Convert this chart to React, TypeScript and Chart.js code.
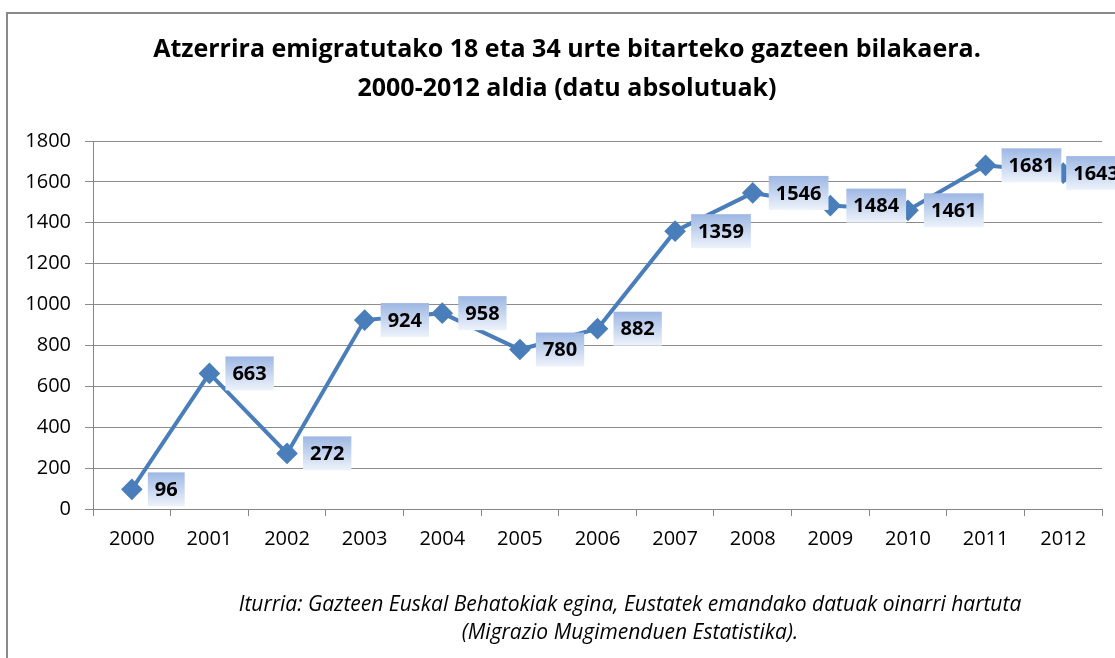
import React, { useEffect, useRef } from "react";
import { Chart, registerables } from "chart.js";

Chart.register(...registerables);

const years = ["2000", "2001", "2002", "2003", "2004", "2005", "2006", "2007", "2008", "2009", "2010", "2011", "2012"];
const youthEmigrants = [96, 663, 272, 924, 958, 780, 882, 1359, 1546, 1484, 1461, 1681, 1643];
const titleLines = [
  "Atzerrira emigratutako 18 eta 34 urte bitarteko gazteen bilakaera.",
  "2000-2012 aldia (datu absolutuak)",
];
const footerLines = [
  "Iturria: Gazteen Euskal Behatokiak egina, Eustatek emandako datuak oinarri hartuta",
  "(Migrazio Mugimenduen Estatistika).",
];

const LINE_BLUE = "#4a7ebb";
const CANVAS_W = 1160;
const CANVAS_H = 700;

const framePlugin = {
  id: "frame",
  beforeDraw(chart: any) {
    const ctx = chart.ctx;
    ctx.save();
    ctx.fillStyle = "#ffffff";
    ctx.fillRect(0, 0, chart.width, chart.height);
    ctx.strokeStyle = "#8a8a8a";
    ctx.lineWidth = 2;
    ctx.strokeRect(7, 13, chart.width - 20, chart.height - 20);
    ctx.restore();
  },
  afterDraw(chart: any) {
    const ctx = chart.ctx;
    ctx.save();
    ctx.fillStyle = "#000000";
    ctx.textAlign = "center";
    ctx.textBaseline = "middle";
    ctx.font = "bold 25px 'Open Sans'";
    ctx.fillText(titleLines[0], 567, 50);
    ctx.fillText(titleLines[1], 567, 89);
    ctx.font = "italic 21px 'Open Sans'";
    ctx.fillText(footerLines[0], 630, 605);
    ctx.fillText(footerLines[1], 630, 633);
    ctx.restore();
  },
};

const labelPlugin = {
  id: "boxLabels",
  afterDatasetsDraw(chart: any) {
    const ctx = chart.ctx;
    const meta = chart.getDatasetMeta(0);
    const data = chart.data.datasets[0].data as number[];
    ctx.save();
    ctx.font = "bold 20px 'Open Sans'";
    ctx.textBaseline = "middle";
    ctx.textAlign = "left";
    meta.data.forEach((pt: any, i: number) => {
      const txt = String(data[i]);
      const tw = ctx.measureText(txt).width;
      const padX = 7;
      const h = 34;
      const offset = i === data.length - 1 ? 3 : 16;
      const x0 = pt.x + offset;
      const y0 = pt.y - h / 2;
      const g = ctx.createLinearGradient(0, y0, 0, y0 + h);
      g.addColorStop(0, "#9db7e3");
      g.addColorStop(1, "#eef3fb");
      ctx.fillStyle = g;
      ctx.fillRect(x0, y0, tw + padX * 2, h);
      ctx.fillStyle = "#000000";
      ctx.fillText(txt, x0 + padX, pt.y + 1);
    });
    ctx.restore();
  },
};

export default function App() {
  const ref = useRef<HTMLCanvasElement>(null);
  useEffect(() => {
    if (!ref.current) return;
    const chart = new Chart(ref.current, {
      type: "line",
      data: {
        labels: years,
        datasets: [
          {
            data: youthEmigrants,
            borderColor: LINE_BLUE,
            backgroundColor: LINE_BLUE,
            borderWidth: 4,
            pointStyle: "rectRot",
            pointRadius: 8,
            pointHoverRadius: 8,
            pointBackgroundColor: LINE_BLUE,
            pointBorderColor: LINE_BLUE,
            tension: 0,
          },
        ],
      },
      options: {
        responsive: false,
        animation: false,
        devicePixelRatio: 1,
        layout: { padding: { left: 0, top: 141, right: CANVAS_W - 1102, bottom: CANVAS_H - 509 - 60 } },
        plugins: {
          legend: { display: false },
          title: { display: false },
          tooltip: { enabled: false },
        },
        scales: {
          x: {
            offset: true,
            grid: {
              offset: true,
              drawOnChartArea: false,
              drawTicks: true,
              tickLength: 7,
              color: "#868686",
            },
            border: { color: "#868686", width: 1 },
            ticks: { color: "#000000", font: { family: "'Open Sans'", size: 20 }, padding: 11 },
            afterFit(scale: any) {
              scale.height = 60;
            },
          },
          y: {
            min: 0,
            max: 1800,
            ticks: {
              stepSize: 200,
              color: "#000000",
              font: { family: "'Open Sans'", size: 20 },
              padding: 14,
              callback: (v: any) => String(v),
            },
            grid: { color: "#8c8c8c", tickLength: 8, lineWidth: 1 },
            border: { color: "#868686", width: 1 },
            afterFit(scale: any) {
              scale.width = 93;
            },
          },
        },
      },
      plugins: [framePlugin, labelPlugin],
    });
    return () => chart.destroy();
  }, []);
  return (
    <div style={{ position: "fixed", left: 0, top: 0, width: 1115, height: 658, overflow: "hidden", background: "#fff" }}>
      <canvas ref={ref} width={CANVAS_W} height={CANVAS_H} style={{ width: CANVAS_W, height: CANVAS_H, display: "block" }} />
    </div>
  );
}
